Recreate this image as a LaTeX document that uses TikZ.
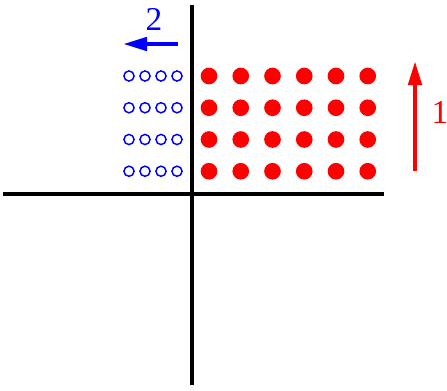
\documentclass[tikz,border=0pt]{standalone}
\usepackage{fontspec}
\setmainfont{Liberation Serif}
\usepackage{tikz}
\usetikzlibrary{arrows.meta}

\begin{document}
\begin{tikzpicture}[x=0.75pt, y=-0.75pt,
  axis/.style={line width=2.3pt, black},
  reddot/.style={circle, fill=red, inner sep=0pt, minimum size=12.5pt},
  bluedot/.style={circle, draw=blue, line width=1.1pt, inner sep=0pt, minimum size=7.6pt},
  movearrow/.style={-{Triangle[length=18pt, width=9.8pt]}, line width=3.3pt},
  digit/.style={font=\fontsize{25}{30}\selectfont, inner sep=0pt}]
  \useasboundingbox (0,0) rectangle (447,390);
  % axes
  \coordinate (xl) at (3,194);
  \coordinate (xr) at (384,194);
  \coordinate (yb) at (192,385);
  \coordinate (yt) at (192,5);
  \draw[axis] (xl) -- (xr);
  \draw[axis] (yb) -- (yt);
  % occupied grid: filled dots right of the axis, open ones left of it
  \foreach \i in {0,...,5} {
    \foreach \j in {0,...,3} {
      \node[reddot] (r\i\j) at (209+31.75*\i, 76+31.75*\j) {};
    }
  }
  \foreach \i in {0,...,3} {
    \foreach \j in {0,...,3} {
      \node[bluedot] (b\i\j) at (129+16*\i, 76+31.75*\j) {};
    }
  }
  % direction 1 (up) and direction 2 (left)
  \coordinate (oneS) at (415,171);
  \coordinate (oneE) at (415,61);
  \draw[movearrow, red] (oneS) -- (oneE);
  \node[digit, red] (one) at (440,112) {1};
  \coordinate (twoS) at (178,44);
  \coordinate (twoE) at (123,44);
  \draw[movearrow, blue] (twoS) -- (twoE);
  \node[digit, blue] (two) at (154,19) {2};
\end{tikzpicture}
\end{document}
